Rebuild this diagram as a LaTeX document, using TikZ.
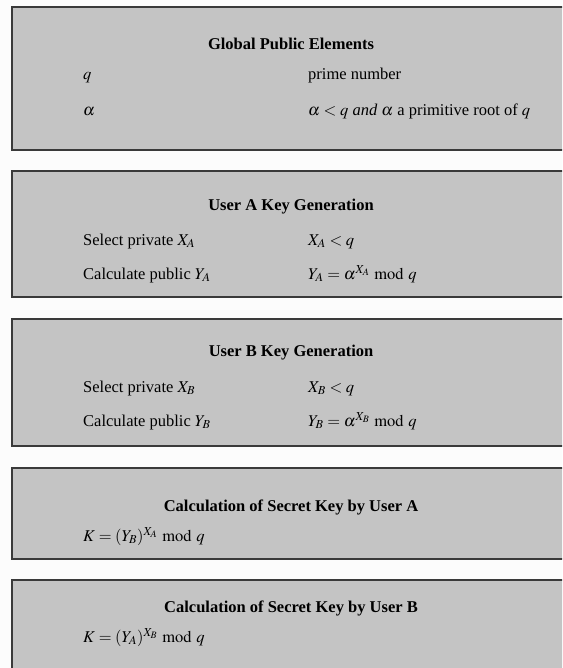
\documentclass[tikz,border=0pt]{standalone}
\usepackage{mathptmx}
\usepackage[no-math]{fontspec}
\setmainfont{Liberation Serif}
\definecolor{panelgray}{RGB}{196,196,196}
\definecolor{rulegray}{RGB}{58,58,58}

\begin{document}
\begin{tikzpicture}[x=1pt, y=-1pt, line width=2.4pt,
    every node/.style={font=\fontsize{16.5}{20}\selectfont, inner sep=0pt},
    panel/.style={draw=rulegray, fill=panelgray},
    paneltitle/.style={anchor=base, font=\fontsize{16.5}{20}\selectfont\bfseries},
    cell/.style={anchor=base west}]
  \useasboundingbox (0,0) rectangle (562,668);
  \fill[white!99!black] (0,0) rectangle (562,668);
  \clip (0,0) rectangle (562,668);

  \draw[panel] (12,7) rectangle (571,150);
  \node[paneltitle] (glob) at (291,50) {Global Public Elements};
  \node[cell] (q) at (82,80) {$q$};
  \node[cell] (qdef) at (307,80) {prime number};
  \node[cell] (alpha) at (82,116) {$\alpha$};
  \node[cell] (alphadef) at (307,116) {$\alpha < q$ \textit{and} $\alpha$ a primitive root of $q$};

  \draw[panel] (12,171) rectangle (571,297);
  \node[paneltitle] (keya) at (291,211) {User A Key Generation};
  \node[cell] (xa) at (82,245) {Select private $X_A$};
  \node[cell] (xadef) at (307,245) {$X_A < q$};
  \node[cell] (ya) at (82,279) {Calculate public $Y_A$};
  \node[cell] (yadef) at (307,279) {$Y_A = \alpha^{X_A} \bmod q$};

  \draw[panel] (12,319) rectangle (571,446);
  \node[paneltitle] (keyb) at (291,356) {User B Key Generation};
  \node[cell] (xb) at (82,392) {Select private $X_B$};
  \node[cell] (xbdef) at (307,392) {$X_B < q$};
  \node[cell] (yb) at (82,426) {Calculate public $Y_B$};
  \node[cell] (ybdef) at (307,426) {$Y_B = \alpha^{X_B} \bmod q$};

  \draw[panel] (12,468) rectangle (571,559);
  \node[paneltitle] (seca) at (291,511) {Calculation of Secret Key by User A};
  \node[cell] (ka) at (82,541) {$K = (Y_B)^{X_A} \bmod q$};

  \draw[panel] (12,580) rectangle (571,700);
  \node[paneltitle] (secb) at (291,612) {Calculation of Secret Key by User B};
  \node[cell] (kb) at (82,642) {$K = (Y_A)^{X_B} \bmod q$};
\end{tikzpicture}
\end{document}
